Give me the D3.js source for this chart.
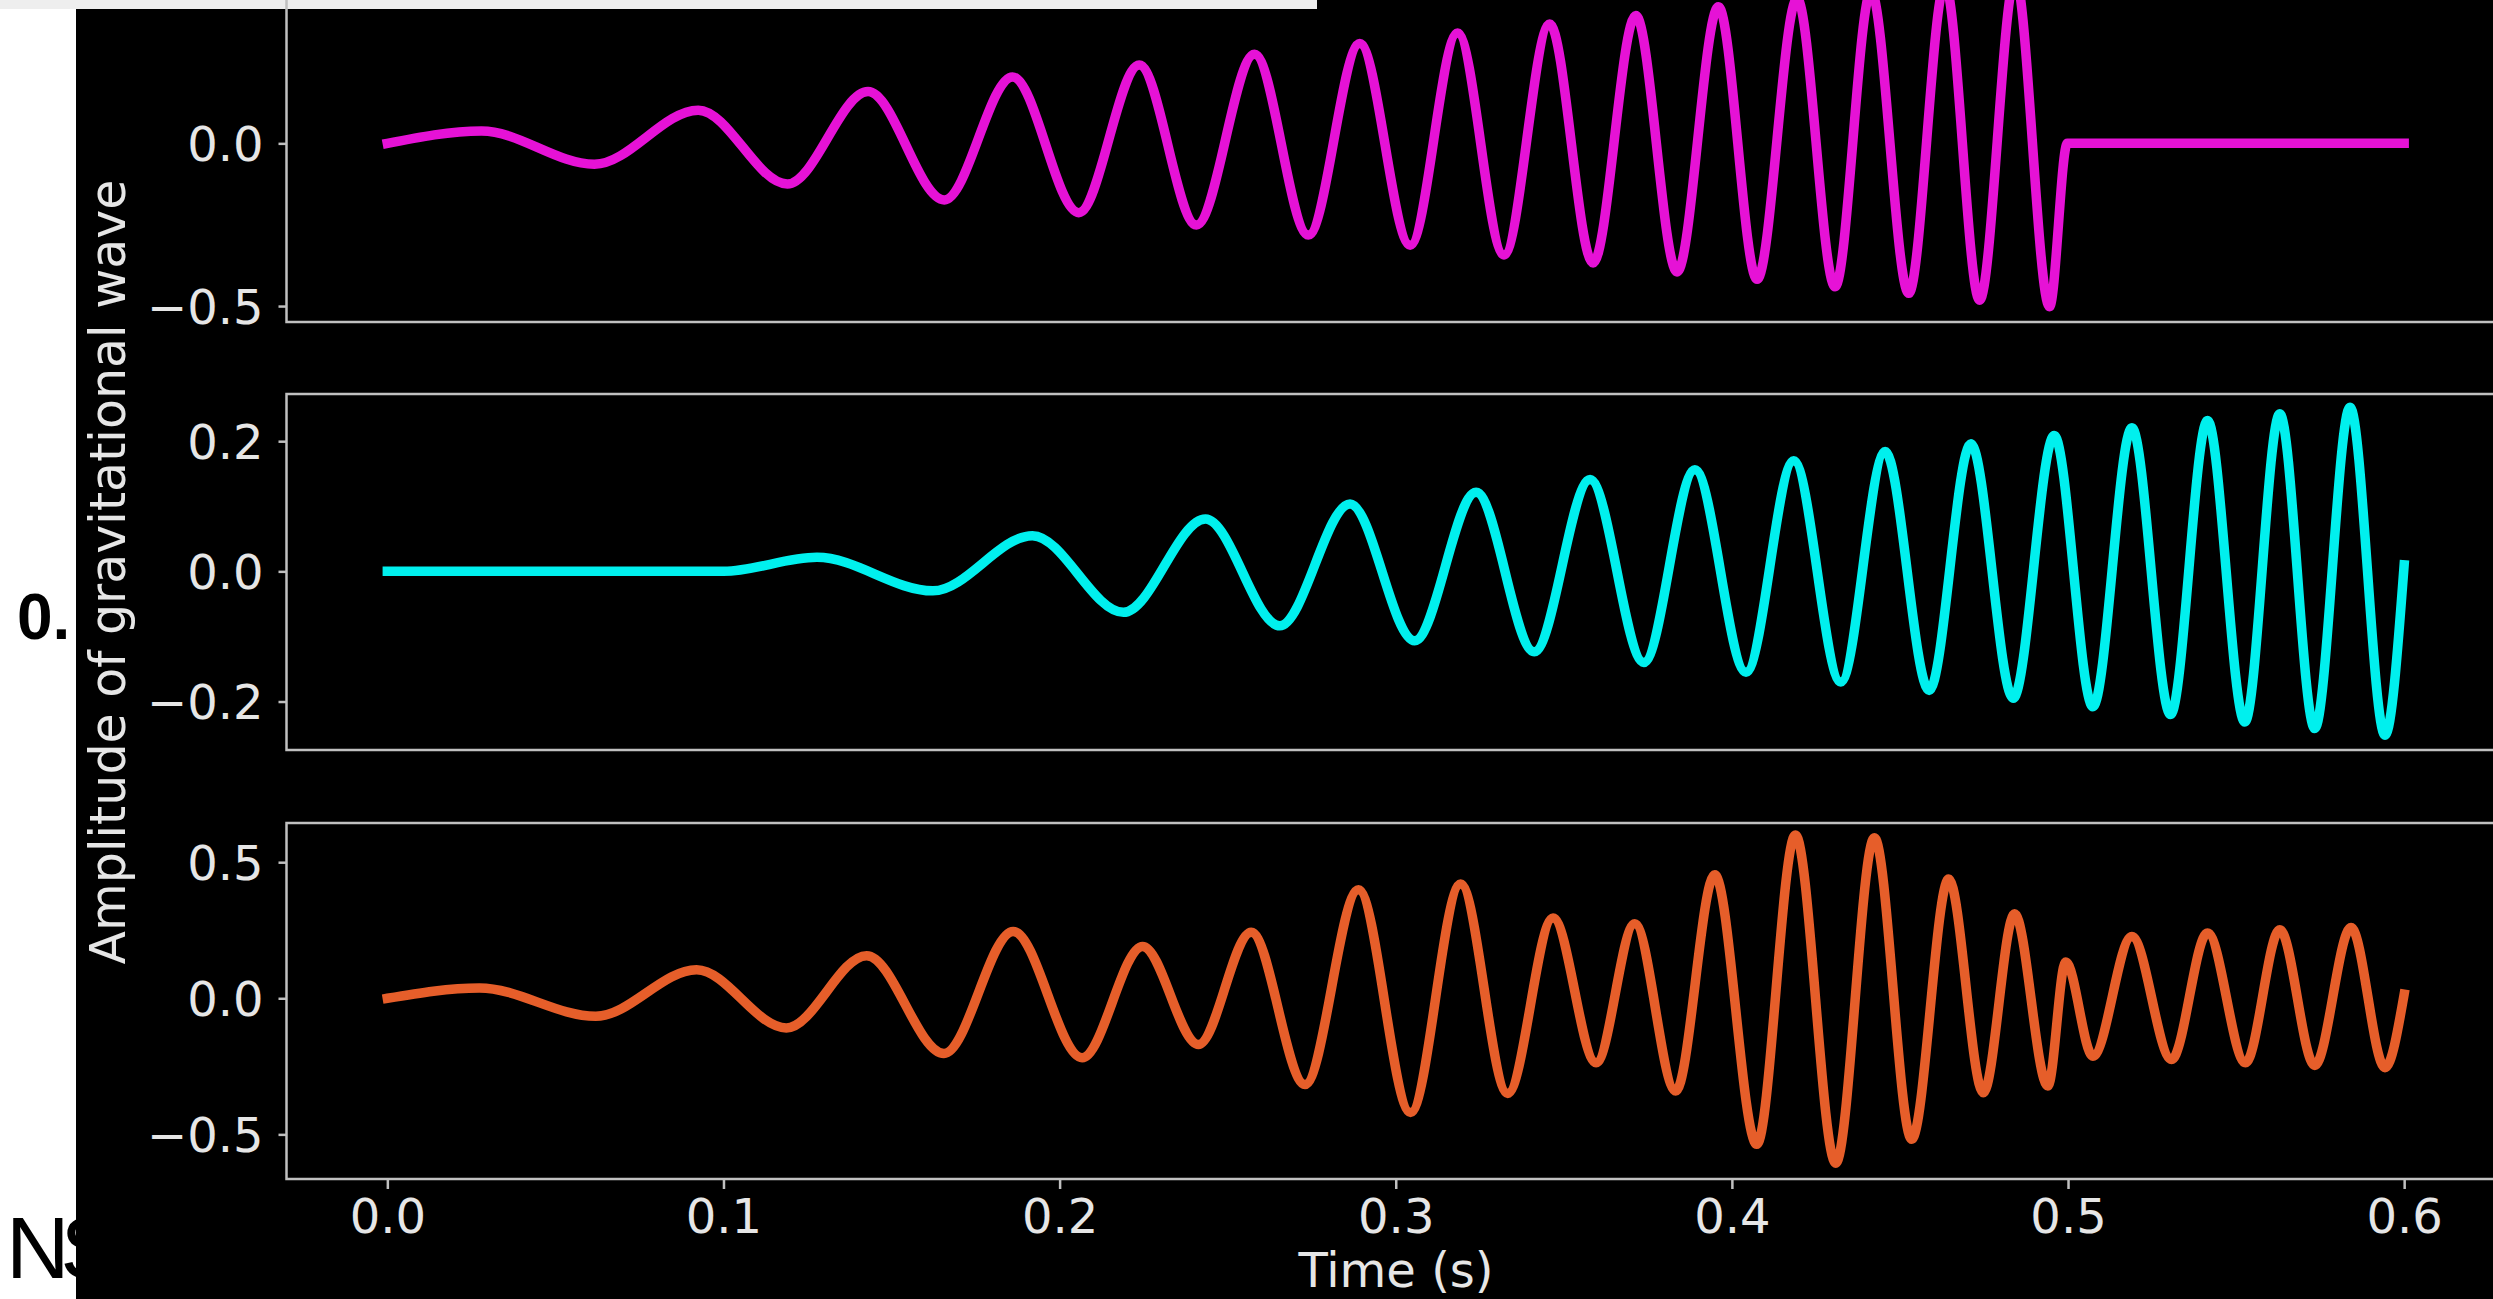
<!DOCTYPE html>
<html>
<head>
<meta charset="utf-8">
<script src="https://cdn.jsdelivr.net/npm/d3@7"></script>
<style>
  body { margin: 0; background: #fff; }
  svg { display: block; }
</style>
</head>
<body>
<div id="chart"></div>
<script>
//////////////////////////////////////////////////////////////////////////////
// Data: turning points of each waveform, [time (s), amplitude]

var timeTicks = [0.0, 0.1, 0.2, 0.3, 0.4, 0.5, 0.6];

var waveMagenta = [
    [0, 0], [0.028, 0.038], [0.0616, -0.064], [0.0925, 0.102], [0.119, -0.125],
    [0.143, 0.159], [0.1657, -0.174], [0.186, 0.204], [0.2057, -0.213],
    [0.2237, 0.241], [0.2407, -0.251], [0.258, 0.274], [0.274, -0.282],
    [0.2893, 0.307], [0.3043, -0.313], [0.3184, 0.339], [0.3322, -0.343],
    [0.3458, 0.367], [0.3587, -0.368], [0.3714, 0.393], [0.3837, -0.395],
    [0.396, 0.420], [0.4075, -0.418], [0.4194, 0.445], [0.4307, -0.441],
    [0.4414, 0.468], [0.4526, -0.461], [0.4634, 0.49], [0.4737, -0.482],
    [0.4843, 0.51], [0.4945, -0.502], [0.4998, 0], [0.6, 0]
];

var waveCyan = [
    [0, 0], [0.1, 0], [0.1278, 0.0215], [0.1623, -0.030], [0.1919, 0.0548],
    [0.219, -0.063], [0.2434, 0.0805], [0.2655, -0.0837], [0.2864, 0.1035],
    [0.3056, -0.1067], [0.3239, 0.1215], [0.3412, -0.1237], [0.3578, 0.141],
    [0.3738, -0.140], [0.389, 0.156], [0.4042, -0.155], [0.4184, 0.170],
    [0.4324, -0.170], [0.4456, 0.184], [0.4587, -0.183], [0.4711, 0.196],
    [0.4837, -0.195], [0.4959, 0.2086], [0.5074, -0.208], [0.519, 0.2205],
    [0.5305, -0.220], [0.5415, 0.2317], [0.5526, -0.2314], [0.563, 0.242],
    [0.5734, -0.2415], [0.5839, 0.2523], [0.5943, -0.2518], [0.6, 0.01]
];

var waveOrange = [
    [0, 0], [0.0274, 0.038], [0.062, -0.066], [0.092, 0.105], [0.1187, -0.109],
    [0.1426, 0.1566], [0.1656, -0.203], [0.1862, 0.2457], [0.2067, -0.2187],
    [0.2247, 0.1907], [0.2413, -0.170], [0.257, 0.243], [0.273, -0.3165],
    [0.2889, 0.3987], [0.3044, -0.420], [0.3193, 0.4195], [0.3333, -0.3495],
    [0.3468, 0.295], [0.3596, -0.237], [0.3711, 0.274], [0.3833, -0.341],
    [0.3949, 0.4536], [0.4074, -0.5365], [0.4189, 0.600], [0.4309, -0.606],
    [0.4424, 0.590], [0.4535, -0.518], [0.4645, 0.438], [0.4748, -0.347],
    [0.4841, 0.3106], [0.494, -0.3227], [0.4993, 0.1335], [0.5074, -0.2127],
    [0.519, 0.227], [0.5308, -0.2248], [0.5415, 0.240], [0.5528, -0.237],
    [0.563, 0.252], [0.5734, -0.2468], [0.5842, 0.260], [0.5943, -0.255],
    [0.6, 0.015]
];

// the top panel's 0.5 label falls above the screenshot, so only two show
var ticksMagenta = [-0.5, 0.0];
var ticksCyan    = [-0.2, 0.0, 0.2];
var ticksOrange  = [-0.5, 0.0, 0.5];

//////////////////////////////////////////////////////////////////////////////
// Layout

var width = 2493, height = 1299;
var panelH = 356;
var font = "'DejaVu Sans', sans-serif";
var textColor = "#e6e6e6";
var spineColor = "#c0c0c0";

var panels = [
    { data: waveMagenta, ticks: ticksMagenta, domain: [-0.549, 0.545],   top: -34, color: "#e612d6" },
    { data: waveCyan,    ticks: ticksCyan,    domain: [-0.2745, 0.2725], top: 394, color: "#00f0ee" },
    { data: waveOrange,  ticks: ticksOrange,  domain: [-0.664, 0.644],   top: 823, color: "#e65e2a" }
];

var xScale = d3.scaleLinear().domain([-0.03, 0.63]).range([286.5, 2505]);

var svg = d3.select("#chart")
    .append("svg")
    .attr("width", width)
    .attr("height", height);

// bits of the slide that sit under the screenshot
svg.append("text")
    .attr("x", 17).attr("y", 639)
    .style("font", "bold 64px 'Liberation Sans', Arial, sans-serif")
    .attr("fill", "#000")
    .text("0.");

svg.append("text")
    .attr("x", 6).attr("y", 1278)
    .style("font", "88px 'Liberation Sans', Arial, sans-serif")
    .style("letter-spacing", "-9px")
    .attr("fill", "#000")
    .text("NS");

svg.append("rect")
    .attr("x", 76).attr("y", 0)
    .attr("width", width - 76).attr("height", height)
    .attr("fill", "#000");

svg.append("rect")
    .attr("x", 0).attr("y", 0)
    .attr("width", 1317).attr("height", 9)
    .attr("fill", "#eeeeee");

//////////////////////////////////////////////////////////////////////////////
// Panels

var fmt = d3.format(".1f");

panels.forEach(function(p, i) {
    var yScale = d3.scaleLinear().domain(p.domain).range([p.top + panelH, p.top]);
    var g = svg.append("g");

    g.append("clipPath")
        .attr("id", "clip" + i)
        .append("rect")
        .attr("x", xScale.range()[0]).attr("y", p.top)
        .attr("width", xScale.range()[1] - xScale.range()[0])
        .attr("height", panelH);

    var line = d3.line()
        .x(function(d) { return xScale(d[0]); })
        .y(function(d) { return yScale(d[1]); })
        .curve(d3.curveMonotoneX);

    g.append("path")
        .datum(p.data)
        .attr("clip-path", "url(#clip" + i + ")")
        .attr("d", line)
        .attr("fill", "none")
        .attr("stroke", p.color)
        .attr("stroke-width", 9.5)
        .attr("stroke-linejoin", "round")
        .attr("stroke-linecap", "square");

    var yAxis = g.append("g")
        .attr("transform", "translate(" + xScale.range()[0] + ",0)")
        .call(d3.axisLeft(yScale).tickValues(p.ticks).tickSize(8).tickPadding(15).tickFormat(fmt));
    styleAxis(yAxis);
    yAxis.selectAll("text").attr("dy", "0.36em");

    if (i == panels.length - 1) {
        var xAxis = g.append("g")
            .attr("transform", "translate(0," + (p.top + panelH) + ")")
            .call(d3.axisBottom(xScale).tickValues(timeTicks).tickSize(10).tickPadding(10).tickFormat(fmt));
        styleAxis(xAxis);
    }

    g.append("rect")
        .attr("x", xScale.range()[0]).attr("y", p.top)
        .attr("width", xScale.range()[1] - xScale.range()[0])
        .attr("height", panelH)
        .attr("fill", "none")
        .attr("stroke", spineColor)
        .attr("stroke-width", 2.5);
});

function styleAxis(sel) {
    sel.select(".domain").remove();
    sel.selectAll("line").attr("stroke", spineColor).attr("stroke-width", 2.5);
    sel.selectAll("text")
        .attr("fill", textColor)
        .style("font-family", font)
        .style("font-size", "48px");
}

//////////////////////////////////////////////////////////////////////////////
// Axis titles

svg.append("text")
    .attr("x", 1396).attr("y", 1287)
    .attr("text-anchor", "middle")
    .attr("fill", textColor)
    .style("font-family", font)
    .style("font-size", "48px")
    .text("Time (s)");

svg.append("text")
    .attr("transform", "translate(125,572) rotate(-90)")
    .attr("text-anchor", "middle")
    .attr("fill", textColor)
    .style("font-family", font)
    .style("font-size", "49px")
    .text("Amplitude of gravitational wave");
</script>
</body>
</html>
